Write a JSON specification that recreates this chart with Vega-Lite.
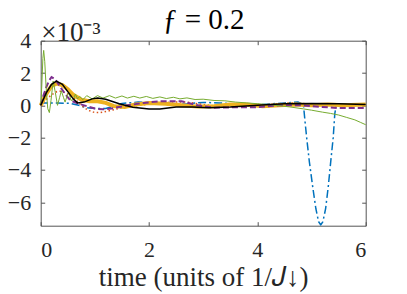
{
  "$schema": "https://vega.github.io/schema/vega-lite/v6.json",
  "width": 325,
  "height": 185,
  "autosize": {"type": "none"},
  "padding": {"left": 40.7, "top": 40.7, "right": 41.3, "bottom": 68.3},
  "background": "white",
  "config": {
    "view": {"stroke": null},
    "font": "Liberation Serif",
    "axis": {"grid": false, "domainColor": "#555555", "tickColor": "#555555", "labelColor": "#262626", "titleColor": "#262626", "labelFont": "Liberation Serif", "titleFont": "Liberation Serif", "titleFontWeight": "normal", "labelFontSize": 22, "tickSize": -4}
  },
  "data": {"values": [
    {"s":"blue","t":0,"v":0},{"s":"blue","t":0.05,"v":0.15},{"s":"blue","t":0.3,"v":0.15},{"s":"blue","t":0.55,"v":0.12},{"s":"blue","t":0.7,"v":0.0},{"s":"blue","t":0.85,"v":-0.15},{"s":"blue","t":1.0,"v":-0.2},{"s":"blue","t":1.2,"v":-0.2},{"s":"blue","t":1.35,"v":-0.05},{"s":"blue","t":1.5,"v":0.12},{"s":"blue","t":1.8,"v":0.2},{"s":"blue","t":2.1,"v":0.15},{"s":"blue","t":2.4,"v":0.05},{"s":"blue","t":2.7,"v":0.1},{"s":"blue","t":3.0,"v":0.18},{"s":"blue","t":3.3,"v":0.15},{"s":"blue","t":3.7,"v":0.05},{"s":"blue","t":4.1,"v":0.05},{"s":"blue","t":4.5,"v":0.15},{"s":"blue","t":4.75,"v":0.2},{"s":"blue","t":4.85,"v":0.05},{"s":"blue","t":4.88,"v":-1.0},{"s":"blue","t":4.91,"v":-2.0},{"s":"blue","t":4.96,"v":-3.5},{"s":"blue","t":5.02,"v":-5.0},{"s":"blue","t":5.08,"v":-6.4},{"s":"blue","t":5.13,"v":-7.2},{"s":"blue","t":5.17,"v":-7.4},{"s":"blue","t":5.21,"v":-7.2},{"s":"blue","t":5.26,"v":-6.4},{"s":"blue","t":5.31,"v":-5.0},{"s":"blue","t":5.36,"v":-3.3},{"s":"blue","t":5.4,"v":-2.0},{"s":"blue","t":5.43,"v":-0.5},{"s":"blue","t":5.46,"v":0.05},{"s":"blue","t":5.8,"v":0.1},{"s":"blue","t":6,"v":0.1},
    {"s":"orange","t":0,"v":0},{"s":"orange","t":0.1,"v":0.35},{"s":"orange","t":0.2,"v":0.65},{"s":"orange","t":0.3,"v":0.85},{"s":"orange","t":0.38,"v":0.88},{"s":"orange","t":0.5,"v":0.7},{"s":"orange","t":0.63,"v":0.4},{"s":"orange","t":0.75,"v":0.0},{"s":"orange","t":0.87,"v":-0.3},{"s":"orange","t":1.0,"v":-0.45},{"s":"orange","t":1.1,"v":-0.45},{"s":"orange","t":1.25,"v":-0.35},{"s":"orange","t":1.5,"v":-0.15},{"s":"orange","t":1.8,"v":0.0},{"s":"orange","t":2.1,"v":0.1},{"s":"orange","t":2.4,"v":0.2},{"s":"orange","t":2.7,"v":0.2},{"s":"orange","t":3.0,"v":0.05},{"s":"orange","t":3.4,"v":-0.1},{"s":"orange","t":3.8,"v":-0.05},{"s":"orange","t":4.2,"v":0.05},{"s":"orange","t":4.6,"v":0.15},{"s":"orange","t":4.9,"v":0.1},{"s":"orange","t":5.3,"v":0.0},{"s":"orange","t":5.7,"v":0.0},{"s":"orange","t":6,"v":0.05},
    {"s":"yellow","t":0,"v":0},{"s":"yellow","t":0.1,"v":0.7},{"s":"yellow","t":0.2,"v":1.2},{"s":"yellow","t":0.3,"v":1.35},{"s":"yellow","t":0.4,"v":1.25},{"s":"yellow","t":0.5,"v":1.0},{"s":"yellow","t":0.6,"v":0.65},{"s":"yellow","t":0.75,"v":0.35},{"s":"yellow","t":0.9,"v":0.25},{"s":"yellow","t":1.05,"v":0.25},{"s":"yellow","t":1.2,"v":0.15},{"s":"yellow","t":1.35,"v":-0.05},{"s":"yellow","t":1.55,"v":-0.1},{"s":"yellow","t":1.75,"v":0.05},{"s":"yellow","t":2.0,"v":0.15},{"s":"yellow","t":2.3,"v":0.1},{"s":"yellow","t":2.6,"v":0.0},{"s":"yellow","t":2.9,"v":-0.08},{"s":"yellow","t":3.2,"v":-0.05},{"s":"yellow","t":3.5,"v":0.05},{"s":"yellow","t":3.8,"v":0.05},{"s":"yellow","t":4.1,"v":-0.05},{"s":"yellow","t":4.4,"v":0.0},{"s":"yellow","t":4.7,"v":0.05},{"s":"yellow","t":5.0,"v":0.0},{"s":"yellow","t":5.3,"v":0.05},{"s":"yellow","t":5.6,"v":0.0},{"s":"yellow","t":6,"v":0.05},
    {"s":"purple","t":0,"v":0},{"s":"purple","t":0.05,"v":0.6},{"s":"purple","t":0.1,"v":1.1},{"s":"purple","t":0.15,"v":1.5},{"s":"purple","t":0.2,"v":1.75},{"s":"purple","t":0.27,"v":1.6},{"s":"purple","t":0.35,"v":1.2},{"s":"purple","t":0.45,"v":0.7},{"s":"purple","t":0.55,"v":0.3},{"s":"purple","t":0.7,"v":0.1},{"s":"purple","t":0.85,"v":-0.05},{"s":"purple","t":1.0,"v":-0.2},{"s":"purple","t":1.15,"v":-0.25},{"s":"purple","t":1.3,"v":-0.2},{"s":"purple","t":1.6,"v":0.0},{"s":"purple","t":1.9,"v":0.15},{"s":"purple","t":2.2,"v":0.25},{"s":"purple","t":2.6,"v":0.25},{"s":"purple","t":2.9,"v":0.0},{"s":"purple","t":3.2,"v":-0.15},{"s":"purple","t":3.6,"v":-0.12},{"s":"purple","t":4.0,"v":-0.12},{"s":"purple","t":4.4,"v":0.0},{"s":"purple","t":4.8,"v":0.0},{"s":"purple","t":5.2,"v":-0.1},{"s":"purple","t":5.5,"v":-0.17},{"s":"purple","t":6,"v":-0.17},
    {"s":"green","t":0,"v":0},{"s":"green","t":0.02,"v":1.2},{"s":"green","t":0.04,"v":2.9},{"s":"green","t":0.055,"v":3.4},{"s":"green","t":0.075,"v":2.7},{"s":"green","t":0.1,"v":1.1},{"s":"green","t":0.13,"v":-0.2},{"s":"green","t":0.16,"v":-0.45},{"s":"green","t":0.19,"v":0.3},{"s":"green","t":0.23,"v":1.5},{"s":"green","t":0.27,"v":0.8},{"s":"green","t":0.31,"v":0.0},{"s":"green","t":0.35,"v":0.5},{"s":"green","t":0.38,"v":0.9},{"s":"green","t":0.42,"v":0.5},{"s":"green","t":0.45,"v":0.2},{"s":"green","t":0.49,"v":0.6},{"s":"green","t":0.52,"v":0.8},{"s":"green","t":0.56,"v":0.3},{"s":"green","t":0.6,"v":0.35},{"s":"green","t":0.64,"v":0.7},{"s":"green","t":0.68,"v":0.4},{"s":"green","t":0.72,"v":0.55},{"s":"green","t":0.78,"v":0.35},{"s":"green","t":0.85,"v":0.6},{"s":"green","t":0.95,"v":0.4},{"s":"green","t":1.05,"v":0.6},{"s":"green","t":1.15,"v":0.45},{"s":"green","t":1.27,"v":0.6},{"s":"green","t":1.38,"v":0.45},{"s":"green","t":1.5,"v":0.58},{"s":"green","t":1.6,"v":0.45},{"s":"green","t":1.72,"v":0.56},{"s":"green","t":1.83,"v":0.45},{"s":"green","t":1.95,"v":0.55},{"s":"green","t":2.07,"v":0.43},{"s":"green","t":2.2,"v":0.52},{"s":"green","t":2.32,"v":0.42},{"s":"green","t":2.45,"v":0.5},{"s":"green","t":2.57,"v":0.4},{"s":"green","t":2.7,"v":0.46},{"s":"green","t":2.85,"v":0.36},{"s":"green","t":3.0,"v":0.38},{"s":"green","t":3.2,"v":0.3},{"s":"green","t":3.4,"v":0.28},{"s":"green","t":3.6,"v":0.2},{"s":"green","t":3.8,"v":0.15},{"s":"green","t":4.0,"v":0.1},{"s":"green","t":4.2,"v":0.05},{"s":"green","t":4.4,"v":-0.02},{"s":"green","t":4.6,"v":-0.1},{"s":"green","t":4.85,"v":-0.22},{"s":"green","t":5.0,"v":-0.3},{"s":"green","t":5.2,"v":-0.42},{"s":"green","t":5.35,"v":-0.5},{"s":"green","t":5.5,"v":-0.6},{"s":"green","t":5.65,"v":-0.75},{"s":"green","t":5.8,"v":-0.9},{"s":"green","t":5.9,"v":-1.05},{"s":"green","t":6,"v":-1.2},
    {"s":"black","t":0,"v":0},{"s":"black","t":0.1,"v":0.75},{"s":"black","t":0.2,"v":1.3},{"s":"black","t":0.29,"v":1.5},{"s":"black","t":0.4,"v":1.3},{"s":"black","t":0.5,"v":0.85},{"s":"black","t":0.6,"v":0.4},{"s":"black","t":0.68,"v":0.15},{"s":"black","t":0.8,"v":0.2},{"s":"black","t":0.95,"v":0.4},{"s":"black","t":1.05,"v":0.45},{"s":"black","t":1.2,"v":0.38},{"s":"black","t":1.45,"v":0.1},{"s":"black","t":1.7,"v":-0.12},{"s":"black","t":2.0,"v":-0.22},{"s":"black","t":2.2,"v":-0.22},{"s":"black","t":2.5,"v":-0.1},{"s":"black","t":2.8,"v":-0.1},{"s":"black","t":3.1,"v":-0.15},{"s":"black","t":3.5,"v":-0.1},{"s":"black","t":4.0,"v":0.0},{"s":"black","t":4.5,"v":0.1},{"s":"black","t":5.0,"v":0.12},{"s":"black","t":5.5,"v":0.1},{"s":"black","t":6,"v":0.05}
  ]},
  "encoding": {
    "x": {"field": "t", "type": "quantitative", "scale": {"domain": [0, 6], "nice": false, "zero": false}, "axis": null},
    "y": {"field": "v", "type": "quantitative", "scale": {"domain": [-7.45, 4], "nice": false, "zero": false}, "axis": null}
  },
  "layer": [
    {
      "transform": [{"filter": "datum.s === 'blue'"}],
      "mark": {"type": "line", "color": "#0072BD", "strokeWidth": 1.5, "strokeDash": [8, 3, 2, 3], "clip": true},
      "encoding": {
        "x": {"field": "t", "type": "quantitative", "scale": {"domain": [0, 6], "nice": false, "zero": false},
              "axis": {"orient": "bottom", "values": [0, 2, 4, 6], "labelPadding": 18, "title": "time (units of 1/𝐽↓)", "titleFontSize": 27, "titleBaseline": "alphabetic", "titleY": 60}},
        "y": {"field": "v", "type": "quantitative", "scale": {"domain": [-7.45, 4], "nice": false, "zero": false},
              "axis": {"orient": "left", "values": [-6, -4, -2, 0, 2, 4], "labelPadding": 14, "title": "×10⁻³", "titleFontSize": 27, "titleAngle": 0, "titleAlign": "left", "titleBaseline": "alphabetic", "titleX": 0, "titleY": 0}}
      }
    },
    {"transform": [{"filter": "datum.s === 'orange'"}], "mark": {"type": "line", "color": "#D95319", "strokeWidth": 1.5, "strokeDash": [1.5, 2.5]}},
    {"transform": [{"filter": "datum.s === 'yellow'"}], "mark": {"type": "line", "color": "#EDB120", "strokeWidth": 4}},
    {"transform": [{"filter": "datum.s === 'purple'"}], "mark": {"type": "line", "color": "#7E2F8E", "strokeWidth": 2, "strokeDash": [6, 3]}},
    {"transform": [{"filter": "datum.s === 'green'"}], "mark": {"type": "line", "color": "#77AC30", "strokeWidth": 1}},
    {"transform": [{"filter": "datum.s === 'black'"}], "mark": {"type": "line", "color": "#000000", "strokeWidth": 1.5}},
    {
      "transform": [{"filter": "datum.s === 'black'"}],
      "mark": {"type": "line", "opacity": 0},
      "encoding": {
        "x": {"field": "t", "type": "quantitative", "scale": {"domain": [0, 6], "nice": false, "zero": false},
              "axis": {"orient": "top", "values": [0, 2, 4, 6], "labels": false, "title": "ƒ = 0.2", "titleFont": "Liberation Serif", "titleFontSize": 29, "titleColor": "#000000", "titleBaseline": "alphabetic", "titleY": -12.7}},
        "y": {"field": "v", "type": "quantitative", "scale": {"domain": [-7.45, 4], "nice": false, "zero": false},
              "axis": {"orient": "right", "values": [-6, -4, -2, 0, 2, 4], "labels": false, "title": null}}
      }
    }
  ],
  "resolve": {"axis": {"x": "independent", "y": "independent"}}
}
